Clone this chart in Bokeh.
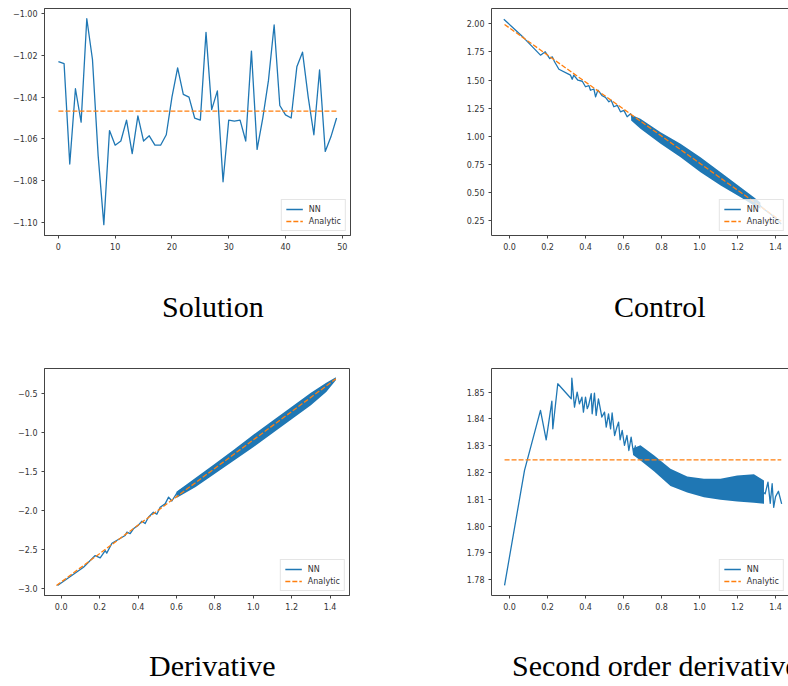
from bokeh.plotting import figure
from bokeh.models import (FixedTicker, CustomJSTickFormatter, Legend, LegendItem,
                          LinearAxis, Div, Range1d)
from bokeh.layouts import column, row
from bokeh.embed import file_html
from bokeh.resources import INLINE

BLUE = "#1f77b4"
ORANGE = "#ff7f0e"
FRAME = "#444444"
TICK_TEXT = "#333333"

# ---------------- data ----------------
titles = ["Solution", "Control", "Derivative", "Second order derivative"]

# Solution
sol_x = list(range(50))
sol_nn = [-1.023, -1.024, -1.072, -1.036, -1.052, -1.0025, -1.022, -1.068, -1.101, -1.056,
          -1.063, -1.061, -1.051, -1.067, -1.049, -1.061, -1.0585, -1.063, -1.063, -1.058,
          -1.040, -1.026, -1.0387, -1.040, -1.050, -1.051, -1.009, -1.046, -1.037, -1.0805,
          -1.051, -1.0515, -1.051, -1.061, -1.018, -1.065, -1.050, -1.032, -1.0055, -1.044,
          -1.0485, -1.050, -1.0255, -1.0185, -1.040, -1.058, -1.027, -1.066, -1.059, -1.050]
sol_an_x = [0, 49]
sol_an_y = [-1.0467, -1.0467]
sol_xticks = [0, 10, 20, 30, 40, 50]
sol_yticks = [-1.10, -1.08, -1.06, -1.04, -1.02, -1.00]

# Control
ctl_nn_x = [-0.030, 0.075, 0.163, 0.188, 0.212, 0.225, 0.237, 0.260, 0.321, 0.330, 0.338,
            0.360, 0.383, 0.400, 0.418, 0.426, 0.444, 0.453, 0.465, 0.488, 0.505, 0.523,
            0.535, 0.549, 0.567, 0.584, 0.602, 0.619, 0.637, 0.654, 0.680]
ctl_nn_y = [2.041, 1.875, 1.721, 1.751, 1.691, 1.706, 1.662, 1.596, 1.543, 1.507, 1.543,
            1.498, 1.489, 1.440, 1.450, 1.409, 1.420, 1.350, 1.410, 1.360, 1.345, 1.306,
            1.320, 1.262, 1.275, 1.217, 1.230, 1.173, 1.200, 1.142, 1.113]
ctl_band_x = [0.640, 0.689, 0.795, 0.900, 1.005, 1.111, 1.216, 1.286, 1.320]
ctl_band_hi = [1.190, 1.155, 1.036, 0.932, 0.813, 0.680, 0.546, 0.457, 0.410]
ctl_band_lo = [1.140, 1.066, 0.932, 0.813, 0.680, 0.561, 0.457, 0.383, 0.355]
ctl_tail_x = [1.300, 1.340, 1.380, 1.430]
ctl_tail_y = [0.410, 0.350, 0.300, 0.220]
ctl_an_x = [-0.026, 1.430]
ctl_an_y = [1.994, 0.244]
ctl_xticks = [0.0, 0.2, 0.4, 0.6, 0.8, 1.0, 1.2, 1.4]
ctl_yticks = [0.25, 0.50, 0.75, 1.00, 1.25, 1.50, 1.75, 2.00]

# Derivative
der_nn_x = [-0.019, 0.116, 0.177, 0.203, 0.229, 0.237, 0.264, 0.333, 0.342, 0.359, 0.376,
            0.402, 0.420, 0.437, 0.454, 0.480, 0.498, 0.515, 0.541, 0.559, 0.576, 0.602,
            0.620, 0.646]
der_nn_y = [-2.965, -2.732, -2.581, -2.611, -2.517, -2.550, -2.423, -2.324, -2.280, -2.300,
            -2.237, -2.190, -2.140, -2.170, -2.088, -2.024, -2.050, -1.960, -1.917, -1.830,
            -1.880, -1.779, -1.740, -1.700]
der_band_x = [0.60, 0.70, 0.80, 0.90, 1.00, 1.10, 1.20, 1.30, 1.38, 1.43]
der_band_hi = [-1.76, -1.58, -1.40, -1.22, -1.03, -0.85, -0.67, -0.49, -0.36, -0.29]
der_band_lo = [-1.84, -1.70, -1.53, -1.36, -1.19, -1.01, -0.83, -0.65, -0.48, -0.33]
der_an_x = [-0.025, 1.430]
der_an_y = [-2.966, -0.311]
der_xticks = [0.0, 0.2, 0.4, 0.6, 0.8, 1.0, 1.2, 1.4]
der_yticks = [-3.0, -2.5, -2.0, -1.5, -1.0, -0.5]

# Second order derivative
sd_nn_x = [-0.026, 0.079, 0.163, 0.193, 0.223, 0.228, 0.254, 0.325, 0.328, 0.342,
           0.356, 0.368, 0.381, 0.389, 0.400, 0.409, 0.416, 0.430, 0.435, 0.447,
           0.456, 0.468, 0.486, 0.500, 0.509, 0.521, 0.532, 0.540, 0.553, 0.565,
           0.574, 0.582, 0.593, 0.605, 0.618, 0.628, 0.640, 0.653, 0.663]
sd_nn_y = [1.7779, 1.8208, 1.8432, 1.8322, 1.8466, 1.8363, 1.8531, 1.8475, 1.8552, 1.8444,
           1.8500, 1.8456, 1.8481, 1.8425, 1.8481, 1.8438, 1.8450, 1.8494, 1.8419, 1.8496,
           1.8413, 1.8475, 1.8407, 1.8425, 1.8369, 1.8419, 1.8363, 1.8422, 1.8338, 1.8369,
           1.8388, 1.8322, 1.8357, 1.8301, 1.8338, 1.8282, 1.8332, 1.8270, 1.8301]
sd_band_x = [0.650, 0.689, 0.760, 0.847, 0.935, 1.023, 1.110, 1.198, 1.286, 1.339]
sd_band_hi = [1.8290, 1.8302, 1.8264, 1.8214, 1.8185, 1.8177, 1.8177, 1.8189, 1.8193, 1.8170]
sd_band_lo = [1.8265, 1.8245, 1.8205, 1.8150, 1.8125, 1.8108, 1.8098, 1.8092, 1.8087, 1.8083]
sd_tail_x = [1.339, 1.345, 1.360, 1.372, 1.382, 1.390, 1.400, 1.415, 1.432]
sd_tail_y = [1.8125, 1.8120, 1.8164, 1.8085, 1.8158, 1.8070, 1.8110, 1.8130, 1.8083]
sd_an_x = [-0.026, 1.430]
sd_an_y = [1.8247, 1.8247]
sd_xticks = [0.0, 0.2, 0.4, 0.6, 0.8, 1.0, 1.2, 1.4]
sd_yticks = [1.78, 1.79, 1.80, 1.81, 1.82, 1.83, 1.84, 1.85]


# ---------------- helpers ----------------
def fmt(digits):
    return CustomJSTickFormatter(args=dict(d=digits),
                                 code="return tick.toFixed(d).replace('-', '\u2212');")


def make_fig(width, height, border, xr, yr, xticks, yticks, xdig, ydig, right_open):
    left, right, top, bottom = border
    p = figure(width=width, height=height, x_range=Range1d(*xr), y_range=Range1d(*yr),
               output_backend="svg", toolbar_location=None,
               min_border_left=left, min_border_right=right,
               min_border_top=top, min_border_bottom=bottom)
    p.xgrid.visible = False
    p.ygrid.visible = False
    p.background_fill_color = "white"
    p.border_fill_color = "white"
    for ax, ticks, dig in ((p.xaxis[0], xticks, xdig), (p.yaxis[0], yticks, ydig)):
        ax.ticker = FixedTicker(ticks=ticks)
        ax.formatter = fmt(dig)
        ax.major_tick_out = 3
        ax.major_tick_in = 0
        ax.minor_tick_out = 0
        ax.minor_tick_in = 0
        ax.major_label_standoff = 4
        ax.major_label_text_font = "DejaVu Sans"
        ax.major_label_text_font_size = "8px"
        ax.major_label_text_color = TICK_TEXT
        ax.axis_line_color = FRAME
        ax.major_tick_line_color = FRAME
    if right_open:
        p.outline_line_color = None
        top_ax = LinearAxis(ticker=FixedTicker(ticks=[]), major_tick_out=0, major_tick_in=0,
                            minor_tick_out=0, minor_tick_in=0, major_label_standoff=0,
                            axis_line_color=FRAME)
        p.add_layout(top_ax, "above")
    else:
        p.outline_line_color = FRAME
        p.outline_line_width = 1
    return p


def add_legend(p, nn, an):
    legend = Legend(items=[LegendItem(label="NN", renderers=[nn]),
                           LegendItem(label="Analytic", renderers=[an])],
                    location="bottom_right", margin=4, padding=4, spacing=2,
                    glyph_width=17, glyph_height=10, label_height=10, label_standoff=6,
                    label_text_font="DejaVu Sans", label_text_font_size="8px",
                    label_text_color=TICK_TEXT, border_line_color="#cccccc",
                    border_line_width=1, background_fill_color="white",
                    background_fill_alpha=0.8)
    p.add_layout(legend)


def nn_line(p, x, y):
    return p.line(x, y, line_color=BLUE, line_width=1.3, line_join="round")


def an_line(p, x, y):
    return p.line(x, y, line_color=ORANGE, line_width=1.3, line_dash="5 2")


def title_div(text, width, height, left, top):
    html = ('<div style="padding-left:%dpx;padding-top:%dpx;font-family:\'Liberation Serif\';'
            'font-size:30px;line-height:30px;white-space:nowrap;color:#000000;">%s</div>'
            % (left, top, text))
    return Div(text=html, width=width, height=height, margin=0,
               styles={"overflow": "hidden"})


# ---------------- figures ----------------
W = 394

# Solution
p1 = make_fig(W, 270, (44, 44, 8, 35), (-2.45, 51.45), (-1.1062, -0.9976),
              sol_xticks, sol_yticks, 0, 2, False)
r_nn = nn_line(p1, sol_x, sol_nn)
r_an = an_line(p1, sol_an_x, sol_an_y)
add_legend(p1, r_nn, r_an)

# Control
p2 = make_fig(W, 270, (97, 0, 8, 35), (-0.0947, 1.468), (0.117, 2.136),
              ctl_xticks, ctl_yticks, 1, 2, True)
p2.varea(x=ctl_band_x, y1=ctl_band_lo, y2=ctl_band_hi, fill_color=BLUE)
r_nn = nn_line(p2, ctl_nn_x, ctl_nn_y)
nn_line(p2, ctl_tail_x, ctl_tail_y)
r_an = an_line(p2, ctl_an_x, ctl_an_y)
add_legend(p2, r_nn, r_an)

# Derivative
p3 = make_fig(W, 270, (44, 45, 8, 35), (-0.087, 1.501), (-3.094, -0.178),
              der_xticks, der_yticks, 1, 1, False)
p3.varea(x=der_band_x, y1=der_band_lo, y2=der_band_hi, fill_color=BLUE)
r_nn = nn_line(p3, der_nn_x, der_nn_y)
r_an = an_line(p3, der_an_x, der_an_y)
add_legend(p3, r_nn, r_an)

# Second order derivative
p4 = make_fig(W, 270, (97, 0, 8, 35), (-0.0947, 1.468), (1.7741, 1.8588),
              sd_xticks, sd_yticks, 1, 2, True)
p4.varea(x=sd_band_x, y1=sd_band_lo, y2=sd_band_hi, fill_color=BLUE)
r_nn = nn_line(p4, sd_nn_x, sd_nn_y)
nn_line(p4, sd_tail_x, sd_tail_y)
r_an = an_line(p4, sd_an_x, sd_an_y)
add_legend(p4, r_nn, r_an)

# ---------------- titles ----------------
d1 = title_div(titles[0], W, 90, 162, 22)
d2 = title_div(titles[1], W, 90, 220, 22)
d3 = title_div(titles[2], W, 56, 149, 21)
d4 = title_div(titles[3], W, 56, 118, 21)

layout = column(row(p1, p2), row(d1, d2), row(p3, p4), row(d3, d4))

open("out.html", "w").write(file_html(layout, INLINE))
